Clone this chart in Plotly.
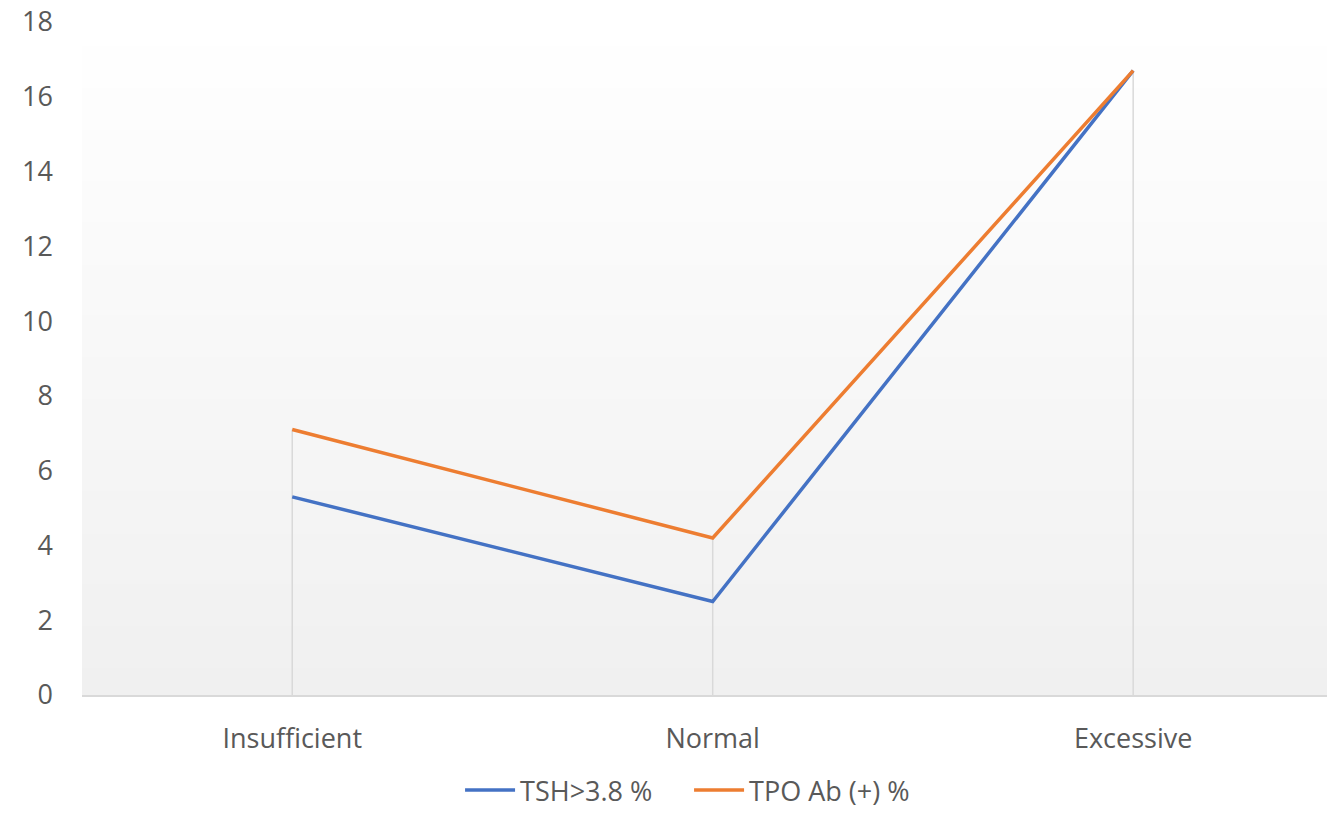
import plotly.graph_objects as go

categories = ["Insufficient", "Normal", "Excessive"]
tsh_pct = [5.3, 2.5, 16.7]
tpo_pct = [7.1, 4.2, 16.7]
y_ticks = [0, 2, 4, 6, 8, 10, 12, 14, 16, 18]

TEXT = "#595959"
GRID = "#d9d9d9"
FONT = "Open Sans, Liberation Sans, sans-serif"
FS = 27

fig = go.Figure()

fig.add_trace(go.Scatter(
    x=categories, y=tsh_pct, name="TSH>3.8 %", mode="lines",
    line=dict(color="#4472C4", width=3.5),
))
fig.add_trace(go.Scatter(
    x=categories, y=tpo_pct, name="TPO Ab (+) %", mode="lines",
    line=dict(color="#ED7D31", width=3.5),
))

shapes = []
# vertical gradient filling the plot area (white at top, light grey at bottom)
n = 80
top = (255, 255, 255)
bot = (240, 240, 240)
for i in range(n):
    t = (i + 0.5) / n
    c = tuple(round(top[k] + (bot[k] - top[k]) * t) for k in range(3))
    shapes.append(dict(
        type="rect", xref="paper", yref="paper",
        x0=0, x1=1, y0=1 - (i + 1) / n, y1=1 - i / n + 0.002,
        fillcolor="rgb(%d,%d,%d)" % c, line=dict(width=0), layer="below",
    ))

# drop lines from the highest series value down to the axis
for i, cat in enumerate(categories):
    shapes.append(dict(
        type="line", xref="x", yref="y", x0=i, x1=i,
        y0=0, y1=max(tsh_pct[i], tpo_pct[i]),
        line=dict(color=GRID, width=1.5), layer="below",
    ))

fig.update_layout(
    width=1327, height=815,
    margin=dict(l=82, r=0, t=22, b=120, autoexpand=False),
    paper_bgcolor="white", plot_bgcolor="rgba(0,0,0,0)",
    font=dict(family=FONT, size=FS, color=TEXT),
    shapes=shapes,
    showlegend=True,
    legend=dict(
        orientation="h", x=0.4876, xanchor="center", xref="paper",
        y=-0.1783, yanchor="bottom", font=dict(size=FS, color=TEXT),
        itemwidth=50, entrywidth=164,
    ),
    xaxis=dict(
        type="category", range=[-0.5, 2.461], automargin=False,
        showgrid=False, zeroline=False,
        showline=True, linecolor=GRID, linewidth=1.5,
        ticks="", ticklabelstandoff=19,
        tickfont=dict(size=FS, color=TEXT),
    ),
    yaxis=dict(
        range=[0, 18], tickvals=y_ticks, automargin=False,
        showgrid=False, zeroline=False, showline=False,
        ticks="", ticklabelstandoff=28,
        tickfont=dict(size=FS, color=TEXT),
    ),
)

fig.write_html("out.html")
